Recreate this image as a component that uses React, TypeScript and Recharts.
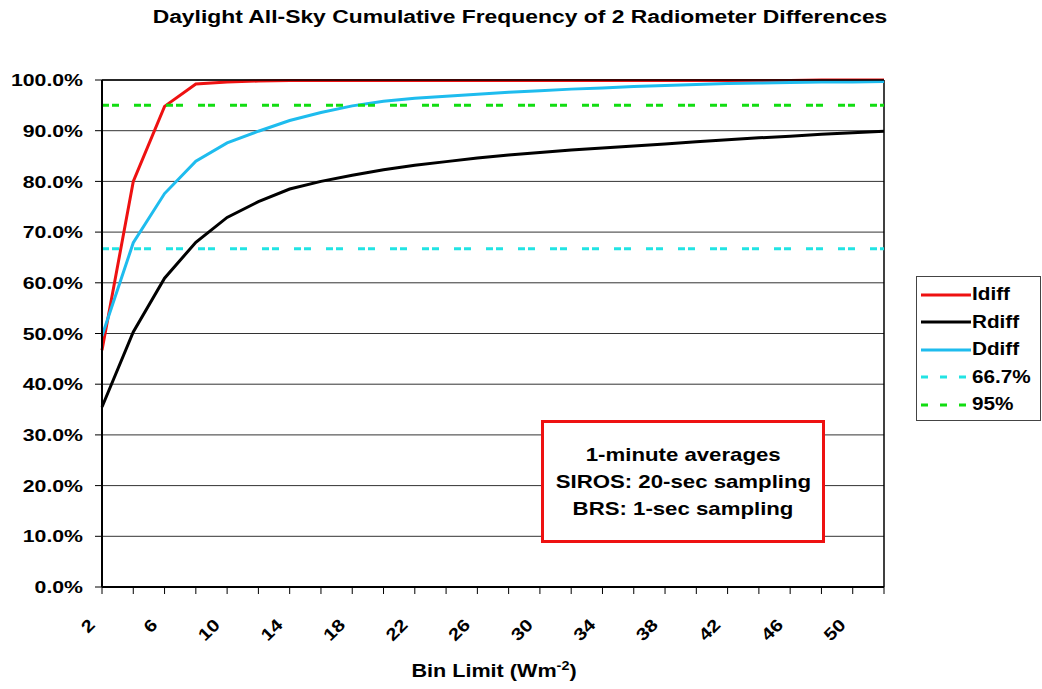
import React from 'react';
import { LineChart, Line, XAxis, YAxis, CartesianGrid, ReferenceLine } from 'recharts';

// Bin limits (Wm-2) and cumulative frequencies (%)
const bins = [2, 4, 6, 8, 10, 12, 14, 16, 18, 20, 22, 24, 26, 28, 30, 32, 34, 36, 38, 40, 42, 44, 46, 48, 50, 52];
const labelledBins = [2, 6, 10, 14, 18, 22, 26, 30, 34, 38, 42, 46, 50];
const yTicks = [0, 10, 20, 30, 40, 50, 60, 70, 80, 90, 100];

const idiff = [46.7, 80.0, 94.8, 99.2, 99.6, 99.8, 99.9, 99.9, 99.9, 99.9, 99.9, 99.9, 99.9, 99.9, 99.9, 99.9, 99.9, 99.9, 99.9, 99.9, 99.9, 99.9, 99.9, 100, 100, 100];
const rdiff = [35.5, 50.3, 60.9, 68.0, 72.9, 76.0, 78.5, 80.0, 81.2, 82.3, 83.2, 83.9, 84.6, 85.2, 85.7, 86.2, 86.6, 87.0, 87.4, 87.8, 88.2, 88.6, 88.9, 89.3, 89.6, 89.9];
const ddiff = [49.5, 67.9, 77.6, 84.0, 87.6, 89.9, 92.0, 93.6, 94.9, 95.8, 96.4, 96.8, 97.2, 97.6, 97.9, 98.2, 98.4, 98.7, 98.9, 99.1, 99.3, 99.4, 99.5, 99.6, 99.6, 99.7];

const level667 = 66.7;
const level95 = 95;

const data = bins.map((bin, i) => ({ bin, Idiff: idiff[i], Rdiff: rdiff[i], Ddiff: ddiff[i] }));

const FONT = "'Liberation Sans', Arial, sans-serif";
const SX = 1.2; // the original text is a bit stretched horizontally

const RED = '#ee1111';
const BLACK = '#000000';
const BLUE = '#1ebcee';
const CYAN = '#22e3e3';
const GREEN = '#11dd11';

const legendItems = [
  { name: 'Idiff', color: RED, dash: undefined },
  { name: 'Rdiff', color: BLACK, dash: undefined },
  { name: 'Ddiff', color: BLUE, dash: undefined },
  { name: '66.7%', color: CYAN, dash: '7 12' },
  { name: '95%', color: GREEN, dash: '7 12' },
];

const YTick = (props: any) => {
  const { x, y, payload } = props;
  return (
    <text
      transform={`translate(${x},${y}) scale(1.25,1)`}
      textAnchor="end"
      dy="0.36em"
      fontFamily={FONT}
      fontWeight="bold"
      fontSize={17}
      fill="#000"
    >
      {Number(payload.value).toFixed(1)}%
    </text>
  );
};

const BinTick = (props: any) => {
  const { x, payload } = props;
  if (!labelledBins.includes(payload.value)) return null;
  const ax = x - 6;
  const ay = 626;
  return (
    <text
      transform={`translate(${ax},${ay}) rotate(-45) scale(${SX},1)`}
      textAnchor="end"
      fontFamily={FONT}
      fontWeight="bold"
      fontSize={17}
      fill="#000"
    >
      {payload.value}
    </text>
  );
};

const textStyle: React.CSSProperties = {
  fontFamily: FONT,
  fontWeight: 'bold',
  color: '#000',
  whiteSpace: 'nowrap',
};

const App: React.FC = () => {
  return (
    <div style={{ position: 'absolute', left: 0, top: 0, width: 1042, height: 689, background: '#fff', overflow: 'hidden' }}>
      <div
        style={{
          ...textStyle,
          position: 'absolute',
          left: 0,
          width: 1040,
          top: 7,
          textAlign: 'center',
          fontSize: 18,
          transform: 'scaleX(1.27)',
          transformOrigin: '520px 0',
        }}
      >
        Daylight All-Sky Cumulative Frequency of 2 Radiometer Differences
      </div>

      <LineChart
        width={1042}
        height={689}
        data={data}
        margin={{ top: 80, right: 158, bottom: 0, left: 0 }}
      >
        <CartesianGrid horizontal vertical={false} stroke="#333" strokeWidth={1} />
        <XAxis
          dataKey="bin"
          interval={0}
          height={102}
          tickSize={7}
          tickLine={{ stroke: '#000', strokeWidth: 1 }}
          axisLine={{ stroke: '#000', strokeWidth: 2 }}
          tick={BinTick}
        />
        <YAxis
          width={102}
          domain={[0, 100]}
          ticks={yTicks}
          tickSize={7}
          tickMargin={12}
          tickLine={{ stroke: '#000', strokeWidth: 1 }}
          axisLine={{ stroke: '#000', strokeWidth: 2 }}
          tick={YTick}
        />
        <ReferenceLine x={52} stroke="#000" strokeWidth={1.5} />
        <Line type="linear" dataKey="Idiff" stroke={RED} strokeWidth={3} dot={false} isAnimationActive={false} />
        <Line type="linear" dataKey="Rdiff" stroke={BLACK} strokeWidth={3} dot={false} isAnimationActive={false} />
        <Line type="linear" dataKey="Ddiff" stroke={BLUE} strokeWidth={3} dot={false} isAnimationActive={false} />
        <ReferenceLine y={100} stroke="#000" strokeWidth={1.5} />
        <ReferenceLine y={level667} stroke={CYAN} strokeWidth={3} strokeDasharray="7 3 7 15" />
        <ReferenceLine y={level95} stroke={GREEN} strokeWidth={3} strokeDasharray="7 3 7 15" />
      </LineChart>

      <div
        style={{
          ...textStyle,
          position: 'absolute',
          left: 0,
          width: 988,
          top: 661,
          textAlign: 'center',
          fontSize: 18,
          transform: `scaleX(${SX})`,
          transformOrigin: '494px 0',
        }}
      >
        Bin Limit (Wm<sup style={{ fontSize: 12, verticalAlign: 'super', lineHeight: 0 }}>-2</sup>)
      </div>

      <div
        style={{
          position: 'absolute',
          left: 541,
          top: 420,
          width: 278,
          height: 117,
          border: `3px solid ${RED}`,
          background: '#fff',
          display: 'flex',
          flexDirection: 'column',
          justifyContent: 'center',
          alignItems: 'center',
        }}
      >
        {['1-minute averages', 'SIROS: 20-sec sampling', 'BRS: 1-sec sampling'].map((t) => (
          <div key={t} style={{ ...textStyle, fontSize: 18.5, lineHeight: '27px', transform: `scaleX(${SX})` }}>
            {t}
          </div>
        ))}
      </div>

      <div
        style={{
          position: 'absolute',
          left: 916,
          top: 276,
          width: 125,
          height: 145,
          border: '1px solid #444',
          background: '#fff',
          boxSizing: 'border-box',
          paddingTop: 4,
        }}
      >
        {legendItems.map((it) => (
          <div key={it.name} style={{ display: 'flex', alignItems: 'center', height: 27.5 }}>
            <svg width={50} height={10} style={{ marginLeft: 4 }}>
              <line x1={0} y1={5} x2={50} y2={5} stroke={it.color} strokeWidth={3} strokeDasharray={it.dash} />
            </svg>
            <span style={{ ...textStyle, fontSize: 18, transform: 'scaleX(1.15)', transformOrigin: '0 50%', marginLeft: 1 }}>
              {it.name}
            </span>
          </div>
        ))}
      </div>
    </div>
  );
};

export default App;
